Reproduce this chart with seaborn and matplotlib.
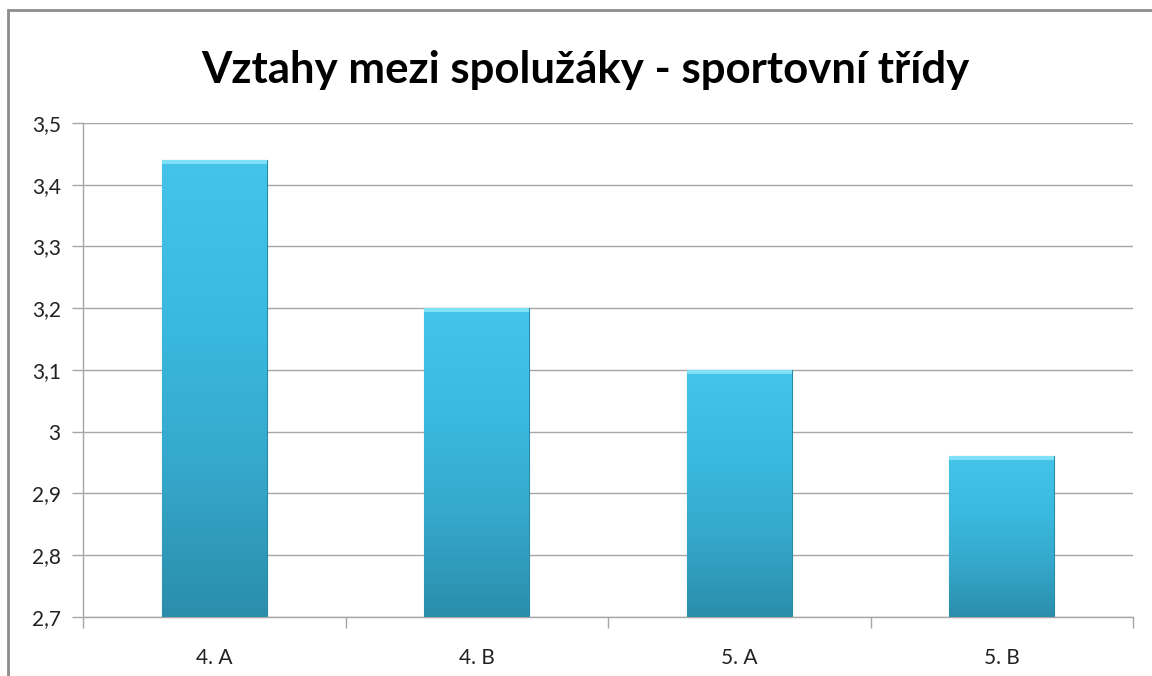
import matplotlib
matplotlib.use("Agg")
import matplotlib.pyplot as plt
import numpy as np
import pandas as pd
import seaborn as sns
from matplotlib.colors import LinearSegmentedColormap
from matplotlib.patches import Rectangle
from matplotlib.ticker import FuncFormatter, MultipleLocator

# Data
classes = ["4. A", "4. B", "5. A", "5. B"]
scores = [3.44, 3.20, 3.10, 2.96]
title = "Vztahy mezi spolužáky - sportovní třídy"

df = pd.DataFrame({"trida": classes, "hodnota": scores})

sns.set_style("white")
plt.rcParams["font.family"] = ["Lato", "DejaVu Sans"]

fig = plt.figure(figsize=(11.52, 6.76), dpi=100)
ax = fig.add_axes([83 / 1152, 1 - 617 / 676, (1133 - 83) / 1152, (617 - 123) / 676])

sns.barplot(data=df, x="trida", y="hodnota", color="#3bbce0", width=0.4,
            ax=ax, zorder=2, edgecolor="#2a8aa6", linewidth=0.8)

ax.set_ylim(2.7, 3.5)
ax.set_xlim(-0.5, len(classes) - 0.5)
ax.yaxis.set_major_locator(MultipleLocator(0.1))
ax.yaxis.set_major_formatter(FuncFormatter(
    lambda v, _: ("%g" % round(v, 1)).replace(".", ",")))
ax.grid(axis="y", color="#a6a6a6", linewidth=1, zorder=0)
ax.set_axisbelow(True)

# gradient shading inside each bar
cmap = LinearSegmentedColormap.from_list("bar", ["#2b8eab", "#35a8cc", "#3bbae0", "#44c4e8"])
grad = np.linspace(0, 1, 256).reshape(-1, 1)
for p in ax.patches:
    x0, w, h = p.get_x(), p.get_width(), p.get_height()
    im = ax.imshow(grad, cmap=cmap, aspect="auto", origin="lower",
                   extent=[x0, x0 + w, 2.7, h], zorder=3)
    im.set_clip_path(p)
    # thin light cap on top
    ax.add_patch(Rectangle((x0, h - 0.006), w, 0.006, color="#7fe0f6", zorder=4, lw=0))
ax.set_xlim(-0.5, len(classes) - 0.5)
ax.set_ylim(2.7, 3.5)

for s in ["top", "right"]:
    ax.spines[s].set_visible(False)
for s in ["left", "bottom"]:
    ax.spines[s].set_color("#a6a6a6")
    ax.spines[s].set_linewidth(1)

# tick marks: y outward, x at category boundaries
ax.tick_params(axis="y", length=8, width=1, color="#a6a6a6", labelsize=15,
               labelcolor="#222222", pad=8, left=True)
ax.set_xticks(range(len(classes)))
ax.set_xticklabels(classes)
ax.tick_params(axis="x", length=0, labelsize=15, labelcolor="#222222", pad=22)
ax.set_xticks(np.arange(-0.5, len(classes)), minor=True)
ax.tick_params(axis="x", which="minor", length=8, width=1, color="#a6a6a6", bottom=True)
ax.set_xlabel("")
ax.set_ylabel("")

fig.text(585 / 1152, 1 - 70 / 676, title, ha="center", va="center",
         fontsize=31.5, fontweight="bold", color="#000000")

# chart frame
fig.add_artist(Rectangle((8 / 1152, -0.01), 1.1, 1 - 10 / 676 + 0.01, transform=fig.transFigure,
                         fill=False, edgecolor="#8c8c8c", linewidth=2))

fig.savefig("out.png", dpi=100)
